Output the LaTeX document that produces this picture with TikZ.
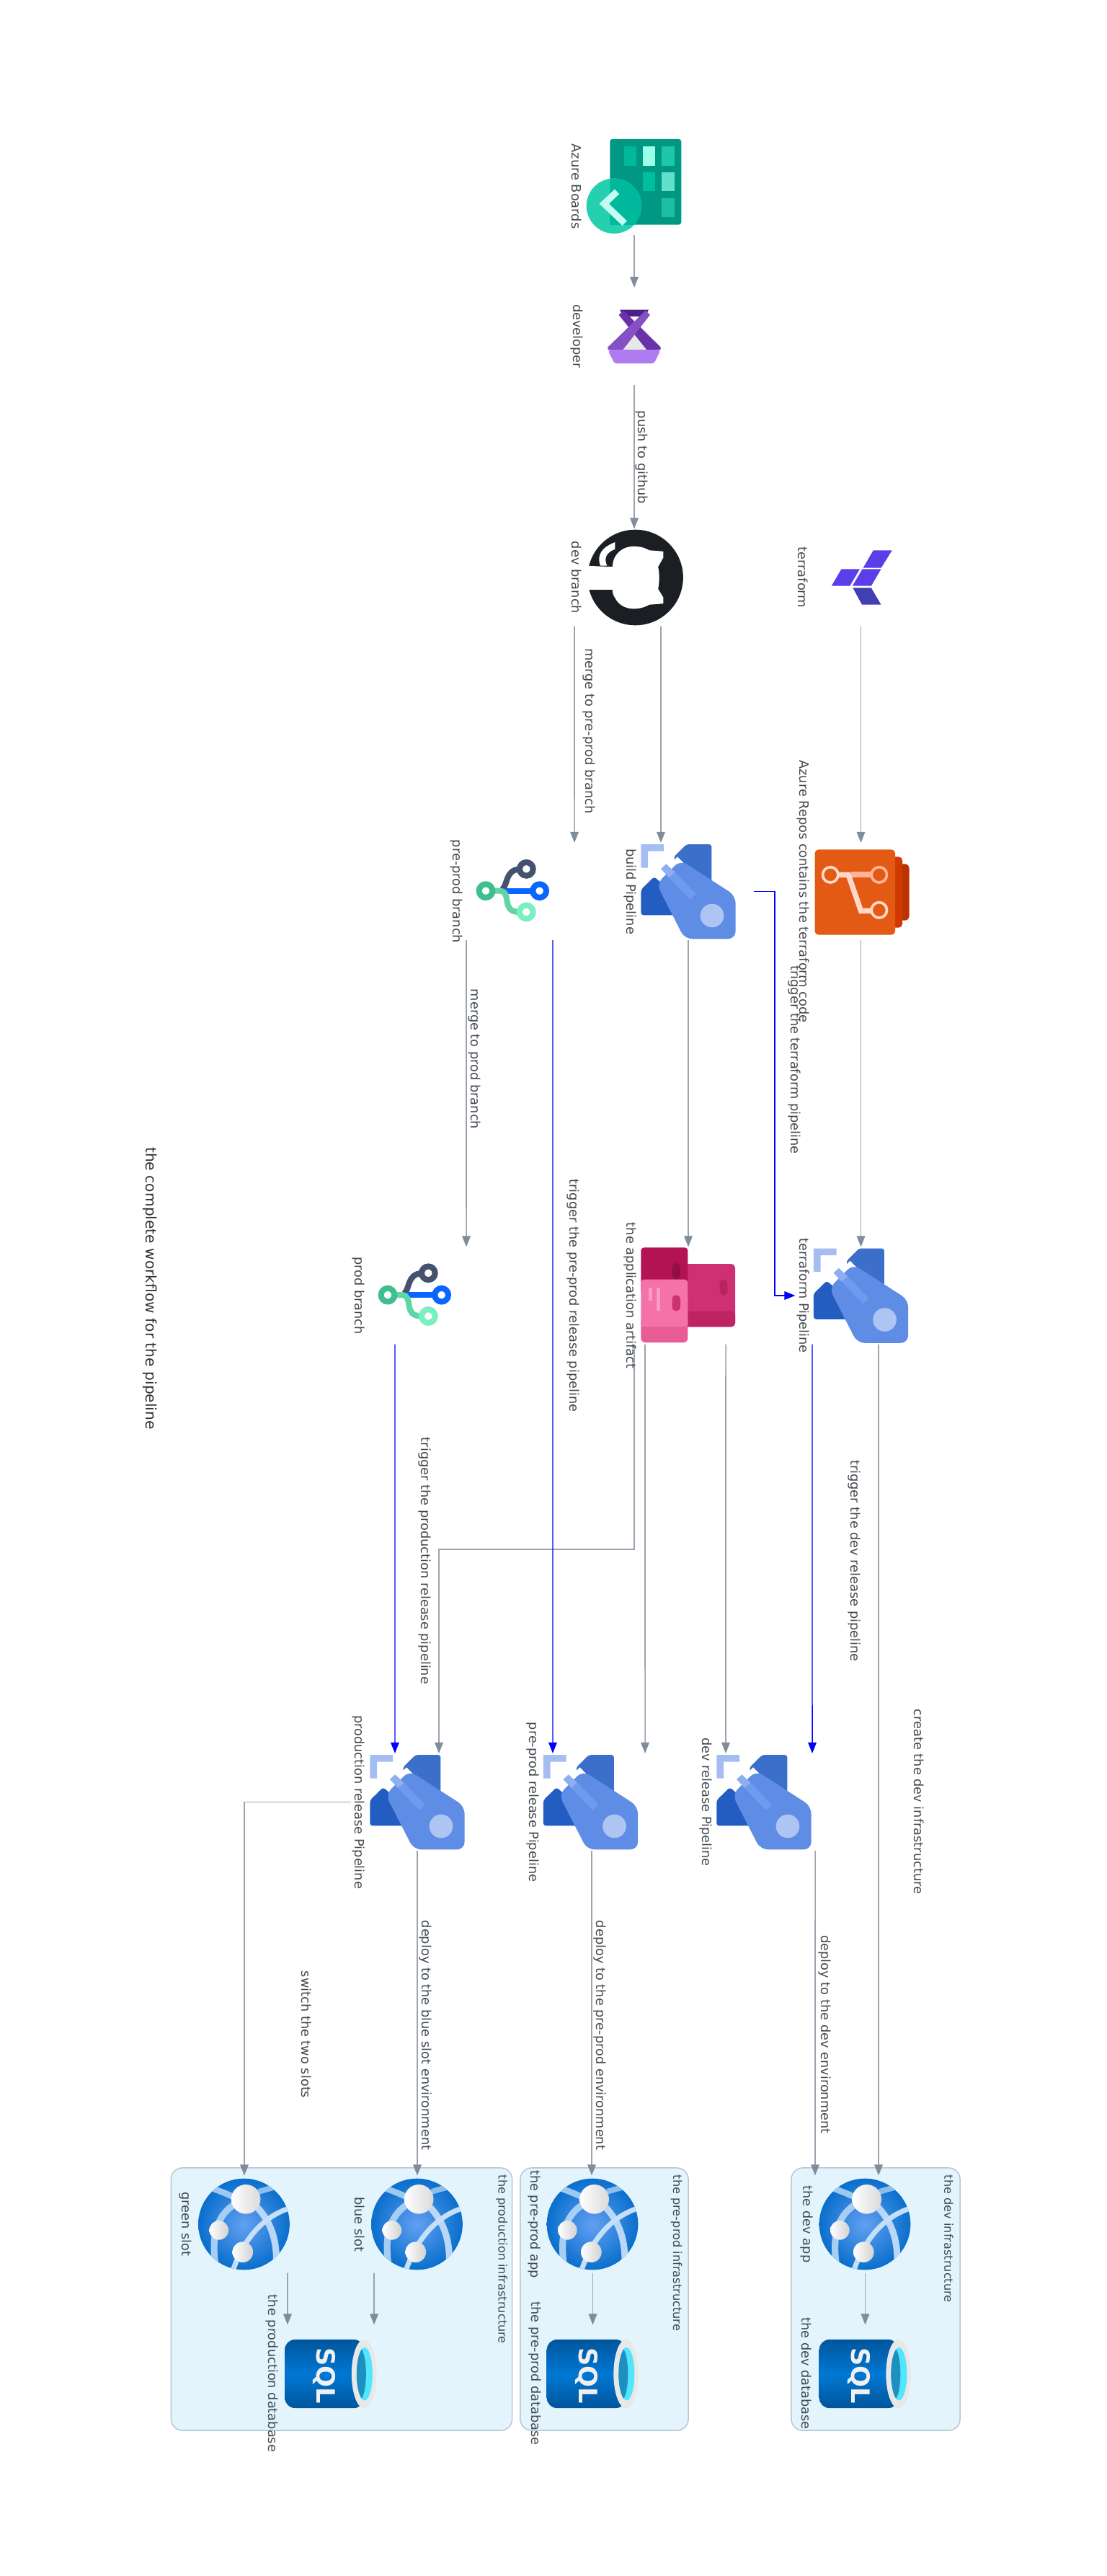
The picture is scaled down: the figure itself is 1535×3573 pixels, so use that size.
\documentclass[tikz,border=0pt]{standalone}
\usepackage{fontspec}
\setmainfont{DejaVu Sans}
\usepackage{tikz}
\usetikzlibrary{arrows.meta}

\definecolor{linegrey}{HTML}{9BA4AE}
\definecolor{tipgrey}{HTML}{7F8C99}
\definecolor{textgrey}{HTML}{44494F}
\definecolor{infrafill}{HTML}{E3F4FD}
\definecolor{infraline}{HTML}{B4C5D2}

\tikzset{
    iconbox/.style={minimum size=1.35cm, inner sep=0, outer sep=0},
    flow/.style={draw=linegrey, line width=0.45pt, -{Triangle[length=0.15cm, width=0.115cm, color=tipgrey]}},
    trigger/.style={draw=blue, line width=0.4pt, -{Triangle[length=0.15cm, width=0.115cm, color=blue]}},
    lbl/.style={rotate=-90, inner sep=0, text=textgrey, font=\fontsize{5.05}{6}\selectfont},
    grouplbl/.style={lbl, anchor=west, font=\fontsize{4.6}{5.5}\selectfont},
    infra/.style={draw=infraline, fill=infrafill, line width=0.4pt, rounded corners=4.5pt, inner sep=0, outer sep=0},
    % every icon is written in the pixels of a close-up crop
    pipelineicon/.pic={
        \begin{scope}[scale=0.3333, shift={(-210,-214.5)}]
            \fill[rounded corners=1pt, fill={rgb,255:red,60;green,111;blue,201}] (148,73) -- (203,18) -- (307,18) -- (307,190) -- (200,190) -- cycle;
            \fill[rounded corners=1pt, fill={rgb,255:red,36;green,93;blue,193}] (68,153) -- (13,207) -- (13,313) -- (190,313) -- (190,260) -- cycle;
            \fill[fill={rgb,255:red,165;green,189;blue,242}] (13,18) -- (108,18) -- (108,47) -- (42,47) -- (42,116) -- (13,116) -- cycle;
            \fill[white] (110,125) -- (165,70) -- (195,100) -- (110,180) -- (75,150) -- cycle;
            \fill[rounded corners=3pt, fill={rgb,255:red,95;green,141;blue,230}] (177,84) -- (78,183) -- (195,412) -- (407,412) -- (407,232) -- cycle;
            \fill[fill={rgb,255:red,143;green,174;blue,240}] (96,120) -- (118,100) -- (155,135) -- (130,157) -- cycle;
            \fill[fill={rgb,255:red,111;green,154;blue,238}] (130,157) -- (155,135) -- (243,225) -- (218,248) -- cycle;
            \fill[fill={rgb,255:red,174;green,196;blue,243}] (309,315) circle (49);
        \end{scope}
    },
    reposicon/.pic={
        \begin{scope}[scale=0.3333, shift={(-207,-199.5)}]
            \fill[rounded corners=1.5pt, fill={rgb,255:red,186;green,51;blue,0}] (340,85) rectangle (408,320);
            \fill[rounded corners=1.5pt, fill={rgb,255:red,208;green,58;blue,0}] (330,55) rectangle (380,350);
            \fill[rounded corners=1.5pt, fill={rgb,255:red,226;green,90;blue,20}] (15,25) rectangle (350,380);
            \draw[line width=2.3pt, color={rgb,255:red,255;green,180;blue,151}] (165,130) -- (250,130);
            \draw[line width=2.1pt, color={rgb,255:red,255;green,216;blue,199}] (110,130) -- (155,130) -- (207,280) -- (250,280);
            \draw[line width=1.05pt, color={rgb,255:red,255;green,216;blue,199}] (80,130) circle (32);
            \draw[line width=1.05pt, color={rgb,255:red,255;green,180;blue,151}] (283,130) circle (32);
            \draw[line width=1.05pt, color={rgb,255:red,255;green,216;blue,199}] (283,277) circle (32);
        \end{scope}
    },
    artifacticon/.pic={
        \begin{scope}[scale=0.3333, shift={(-210,-210)}]
            \fill[rounded corners=1.5pt, fill={rgb,255:red,207;green,47;blue,115}] (180,78) rectangle (405,340);
            \fill[rounded corners=1.5pt, fill={rgb,255:red,191;green,36;blue,98}] (180,275) rectangle (405,340);
            \fill[rounded corners=1.2pt, fill={rgb,255:red,179;green,18;blue,83}] (13,10) rectangle (208,200);
            \fill[rounded corners=1.5pt, fill={rgb,255:red,232;green,93;blue,150}] (13,300) rectangle (208,405);
            \fill[rounded corners=1.2pt, fill={rgb,255:red,244;green,114;blue,167}] (13,143) rectangle (208,340);
            \fill[rounded corners=1.5pt, fill={rgb,255:red,186;green,35;blue,96}] (341,143) rectangle (373,209);
            \fill[rounded corners=1.5pt, fill={rgb,255:red,147;green,15;blue,67}] (143,75) rectangle (177,141);
            \fill[rounded corners=1.5pt, fill={rgb,255:red,204;green,49;blue,115}] (143,208) rectangle (177,274);
            \fill[fill={rgb,255:red,251;green,156;blue,198}] (44,177) rectangle (60,230);
            \fill[fill={rgb,255:red,251;green,156;blue,198}] (77,177) rectangle (93,272);
        \end{scope}
    },
    branchicon/.pic={
        \begin{scope}[scale=0.3333, shift={(-184.5,-199.5)}, line width=2.3pt]
            \draw[color={rgb,255:red,69;green,82;blue,111}] (140,190) .. controls (165,175) and (150,110) .. (215,106);
            \draw[color={rgb,255:red,69;green,82;blue,111}] (241,106) circle (28);
            \draw[color={rgb,255:red,10;green,102;blue,255}] (150,197) -- (268,197);
            \draw[color={rgb,255:red,10;green,102;blue,255}] (296,197) circle (28);
            \draw[color={rgb,255:red,96;green,214;blue,165}] (100,197) -- (130,197) .. controls (185,200) and (130,285) .. (213,285);
            \draw[color={rgb,255:red,63;green,191;blue,143}] (72,197) circle (28);
            \draw[color={rgb,255:red,122;green,239;blue,191}] (241,285) circle (28);
        \end{scope}
    },
    appicon/.pic={
        \begin{scope}[scale=0.3333, shift={(-211.5,-210)}]
            \shade[inner color={rgb,255:red,98;green,160;blue,242}, outer color={rgb,255:red,10;green,111;blue,204}] (210,210) circle (190);
            \begin{scope}
                \clip (210,210) circle (190);
                \draw[line width=2.4pt, color={rgb,255:red,156;green,201;blue,240}] (75,60) .. controls (120,75) and (140,85) .. (175,100);
                \draw[line width=2.2pt, color={rgb,255:red,140;green,190;blue,235}] (270,75) -- (340,55);
                \draw[line width=2.6pt, color={rgb,255:red,166;green,206;blue,243}] (175,125) .. controls (100,170) and (75,250) .. (90,370);
                \draw[line width=2.6pt, color={rgb,255:red,185;green,215;blue,247}] (250,125) .. controls (320,190) and (345,270) .. (345,360);
                \draw[line width=2pt, color={rgb,255:red,198;green,223;blue,248}] (395,145) .. controls (290,180) and (210,270) .. (165,400);
            \end{scope}
            \shade[left color=white, right color={rgb,255:red,218;green,218;blue,218}] (218,106) circle (61);
            \shade[left color=white, right color={rgb,255:red,210;green,210;blue,210}] (106,235) circle (40);
            \shade[left color=white, right color={rgb,255:red,210;green,210;blue,210}] (205,326) circle (43);
        \end{scope}
    },
    sqlicon/.pic={
        \begin{scope}[scale=0.3333, shift={(-211.5,-201)}]
            \shade[top color={rgb,255:red,0;green,85;blue,155}, bottom color={rgb,255:red,0;green,85;blue,155}, middle color={rgb,255:red,0;green,120;blue,212}, rounded corners=4pt] (20,60) -- (350,60) -- (350,345) -- (20,345) -- cycle;
            \fill[fill={rgb,255:red,232;green,232;blue,232}] (350,203) ellipse (52 and 143);
            \fill[fill={rgb,255:red,80;green,230;blue,255}] (352,203) ellipse (33 and 110);
            \begin{scope}
                \clip (352,203) ellipse (33 and 110);
                \fill[fill={rgb,255:red,31;green,143;blue,191}] (330,203) ellipse (28 and 110);
            \end{scope}
            \node[rotate=-90, inner sep=0, text={rgb,255:red,240;green,240;blue,240}, font=\fontsize{10}{11}\bfseries\selectfont] (sqltext) at (185,210) {SQL};
        \end{scope}
    },
    boardsicon/.pic={
        \begin{scope}[scale=0.51, shift={(-549,-310.7)}]
            \fill[rounded corners=1pt, fill={rgb,255:red,0;green,152;blue,130}] (483,182) rectangle (677,415);
            \fill[fill={rgb,255:red,0;green,184;blue,156}] (521,202) rectangle (555,254);
            \fill[fill={rgb,255:red,155;green,255;blue,234}] (572,202) rectangle (606,254);
            \fill[fill={rgb,255:red,29;green,199;blue,168}] (624,202) rectangle (658,254);
            \fill[fill={rgb,255:red,0;green,191;blue,160}] (572,272) rectangle (606,324);
            \fill[fill={rgb,255:red,99;green,224;blue,200}] (624,272) rectangle (658,324);
            \fill[fill={rgb,255:red,29;green,192;blue,163}] (624,343) rectangle (658,395);
            \fill[fill={rgb,255:red,37;green,208;blue,177}] (494,364) circle (75);
            \begin{scope}
                \clip (483,182) rectangle (677,415);
                \fill[fill={rgb,255:red,0;green,185;blue,157}] (494,364) circle (75);
            \end{scope}
            \draw[line width=2.6pt, color={rgb,255:red,198;green,252;blue,240}] (502,325) -- (467,358) -- (523,411);
        \end{scope}
    },
    developericon/.pic={
        \begin{scope}[scale=0.51, shift={(-549,-718.3)}]
            \fill[fill={rgb,255:red,232;green,232;blue,232}] (518,755) -- (582,755) -- (549,712) -- cycle;
            \fill[fill={rgb,255:red,76;green,31;blue,134}] (510,646) -- (588,646) -- (580,664) -- (518,664) -- cycle;
            \fill[fill={rgb,255:red,106;green,50;blue,168}] (507,660) -- (520,648) -- (621,748) -- (621,755) -- (583,755) -- cycle;
            \fill[fill={rgb,255:red,132;green,80;blue,196}] (592,660) -- (580,648) -- (477,748) -- (477,755) -- (518,755) -- cycle;
            \fill[rounded corners=1pt, fill={rgb,255:red,174;green,123;blue,240}] (477,755) -- (621,755) -- (603,792) -- (495,792) -- cycle;
        \end{scope}
    },
    githubicon/.pic={
        \begin{scope}[scale=0.51, shift={(-549,-1374)}]
            \fill[fill={rgb,255:red,27;green,31;blue,35}] (552,1374) circle (130);
            \fill[white] (415,1342) -- (490,1345) .. controls (490,1310) and (520,1285) .. (557,1290) .. controls (570,1290) and (580,1295) .. (590,1300) -- (628,1303) -- (628,1320) -- (614,1345) .. controls (618,1365) and (618,1385) .. (614,1405) -- (628,1428) -- (628,1445) -- (590,1448) .. controls (560,1465) and (515,1465) .. (497,1430) .. controls (490,1420) and (490,1412) .. (490,1407) -- (415,1407) -- cycle;
            \fill[white] (497,1278) .. controls (465,1290) and (445,1310) .. (457,1342) -- (475,1342) .. controls (465,1320) and (475,1305) .. (497,1297) -- cycle;
        \end{scope}
    },
    terraformicon/.pic={
        \begin{scope}[scale=0.51, shift={(-1164,-1374)}]
            \fill[fill={rgb,255:red,92;green,62;blue,232}] (1198,1300) -- (1249,1300) -- (1219,1348) -- (1170,1348) -- cycle;
            \fill[fill={rgb,255:red,92;green,62;blue,232}] (1111,1351) -- (1161,1351) -- (1134,1397) -- (1084,1397) -- cycle;
            \fill[fill={rgb,255:red,92;green,62;blue,232}] (1168,1351) -- (1219,1351) -- (1192,1397) -- (1141,1397) -- cycle;
            \fill[fill={rgb,255:red,64;green,64;blue,178}] (1142,1402) -- (1192,1402) -- (1219,1448) -- (1167,1448) -- cycle;
        \end{scope}
    },
}

\begin{document}
\begin{tikzpicture}[x=0.01cm, y=-0.01cm]
    \useasboundingbox (0,0) rectangle (1535,3573);

    % infrastructure groups
    \node[infra, minimum width=4.73cm, minimum height=3.64cm] (prodinfra) at (474,3189) {};
    \node[infra, minimum width=2.33cm, minimum height=3.64cm] (preinfra) at (838.5,3189) {};
    \node[infra, minimum width=2.34cm, minimum height=3.64cm] (devinfra) at (1215,3189) {};

    % icons
    \node[iconbox] (boards) at (880,258.5) {};
    \node[iconbox] (developer) at (880,466.5) {};
    \node[iconbox] (github) at (880,801) {};
    \node[iconbox] (terraform) at (1194.5,801) {};
    \node[iconbox] (preprod) at (711.5,1236.5) {};
    \node[iconbox] (build) at (955,1236.5) {};
    \node[iconbox] (repos) at (1194.5,1236.5) {};
    \node[iconbox] (prod) at (575.5,1797) {};
    \node[iconbox] (artifact) at (955,1797) {};
    \node[iconbox] (tfpipe) at (1194.5,1797) {};
    \node[iconbox] (prodpipe) at (579,2499.5) {};
    \node[iconbox] (prepipe) at (819.5,2499.5) {};
    \node[iconbox] (devpipe) at (1060,2499.5) {};
    \node[iconbox] (greenapp) at (339,3085) {};
    \node[iconbox] (blueapp) at (579,3085) {};
    \node[iconbox] (preapp) at (822.5,3085) {};
    \node[iconbox] (devapp) at (1200.5,3085) {};
    \node[iconbox] (proddb) at (459,3292) {};
    \node[iconbox] (predb) at (822.5,3292) {};
    \node[iconbox] (devdb) at (1200.5,3292) {};

    \pic (boardspic) at (boards) {boardsicon};
    \pic (developerpic) at (developer) {developericon};
    \pic (githubpic) at (github) {githubicon};
    \pic (terraformpic) at (terraform) {terraformicon};
    \pic (preprodpic) at (preprod) {branchicon};
    \pic (buildpic) at (build) {pipelineicon};
    \pic (repospic) at (repos) {reposicon};
    \pic (prodpic) at (prod) {branchicon};
    \pic (artifactpic) at (artifact) {artifacticon};
    \pic (tfpipepic) at (tfpipe) {pipelineicon};
    \pic (prodpipepic) at (prodpipe) {pipelineicon};
    \pic (prepipepic) at (prepipe) {pipelineicon};
    \pic (devpipepic) at (devpipe) {pipelineicon};
    \pic (greenapppic) at (greenapp) {appicon};
    \pic (blueapppic) at (blueapp) {appicon};
    \pic (preapppic) at (preapp) {appicon};
    \pic (devapppic) at (devapp) {appicon};
    \pic (proddbpic) at (proddb) {sqlicon};
    \pic (predbpic) at (predb) {sqlicon};
    \pic (devdbpic) at (devdb) {sqlicon};

    % grey connectors
    \draw[flow] (boards.south) -- (developer.north);
    \draw[flow] (developer.south) -- (github.north);
    \draw[flow] ([xshift=-0.83cm]github.south) -- ([xshift=0.855cm]preprod.north);
    \draw[flow] ([xshift=0.37cm]github.south) -- ([xshift=-0.38cm]build.north);
    \draw[flow] (terraform.south) -- (repos.north);
    \draw[flow] ([xshift=-0.645cm]preprod.south) -- ([xshift=0.715cm]prod.north);
    \draw[flow] (build.south) -- (artifact.north);
    \draw[flow] (repos.south) -- (tfpipe.north);
    \draw[flow] ([xshift=-0.75cm]artifact.south) -- ++(0,284.5) -| ([xshift=0.3cm]prodpipe.north);
    \draw[flow] ([xshift=-0.6cm]artifact.south) -- ([xshift=0.755cm]prepipe.north);
    \draw[flow] ([xshift=0.52cm]artifact.south) -- ([xshift=-0.53cm]devpipe.north);
    \draw[flow] ([xshift=0.245cm]tfpipe.south) -- ([xshift=0.185cm]devapp.north);
    \draw[flow] (prodpipe.south) -- (blueapp.north);
    \draw[flow] ([xshift=-0.24cm]prodpipe.west) -| (greenapp.north);
    \draw[flow] ([xshift=0.015cm]prepipe.south) -- ([xshift=-0.015cm]preapp.north);
    \draw[flow] ([xshift=0.71cm]devpipe.south) -- ([xshift=-0.695cm]devapp.north);
    \draw[flow] ([xshift=0.6cm]greenapp.south) -- ([xshift=-0.6cm]proddb.north);
    \draw[flow] ([xshift=-0.6cm]blueapp.south) -- ([xshift=0.6cm]proddb.north);
    \draw[flow] (preapp.south) -- (predb.north);
    \draw[flow] (devapp.south) -- (devdb.north);

    % blue connectors
    \draw[trigger] ([xshift=0.235cm]build.east) -- ++(29,0) |- ([xshift=-0.235cm]tfpipe.west);
    \draw[trigger] ([xshift=0.555cm]preprod.south) -- ([xshift=-0.525cm]prepipe.north);
    \draw[trigger] ([xshift=-0.275cm]prod.south) -- ([xshift=-0.31cm]prodpipe.north);
    \draw[trigger] ([xshift=-0.675cm]tfpipe.south) -- ([xshift=0.67cm]devpipe.north);

    % icon labels
    \node[lbl] (boardslabel) at (800,258.5) {Azure Boards};
    \node[lbl] (developerlabel) at (800,466.5) {developer};
    \node[lbl] (githublabel) at (800,801) {dev branch};
    \node[lbl] (terraformlabel) at (1114,801) {terraform};
    \node[lbl] (preprodlabel) at (633,1236.5) {pre-prod branch};
    \node[lbl] (buildlabel) at (874,1236.5) {build Pipeline};
    \node[lbl] (reposlabel) at (1114,1236.5) {Azure Repos contains the terraform code};
    \node[lbl] (prodlabel) at (497,1797) {prod branch};
    \node[lbl] (artifactlabel) at (874.5,1797) {the application artifact};
    \node[lbl] (tfpipelabel) at (1114,1797) {terraform Pipeline};
    \node[lbl] (prodpipelabel) at (497,2499.5) {production release Pipeline};
    \node[lbl] (prepipelabel) at (739,2499.5) {pre-prod release Pipeline};
    \node[lbl] (devpipelabel) at (979,2499.5) {dev release Pipeline};
    \node[lbl] (greenlabel) at (257,3085) {green slot};
    \node[lbl] (bluelabel) at (499,3085) {blue slot};
    \node[lbl] (preapplabel) at (741,3085) {the pre-prod app};
    \node[lbl] (devapplabel) at (1119,3085) {the dev app};
    \node[lbl] (proddblabel) at (377.5,3292) {the production database};
    \node[lbl] (predblabel) at (742,3292) {the pre-prod database};
    \node[lbl] (devdblabel) at (1119,3292) {the dev database};

    % group labels
    \node[grouplbl] (prodinfralabel) at (696,3016) {the production infrastructure};
    \node[grouplbl] (preinfralabel) at (938.5,3016) {the pre-prod infrastructure};
    \node[grouplbl] (devinfralabel) at (1316.5,3016) {the dev infrastructure};

    % connector labels
    \node[lbl] (pushlabel) at (890,634.5) {push to github};
    \node[lbl] (mergepre) at (817,1014) {merge to pre-prod branch};
    \node[lbl] (mergeprod) at (658,1469) {merge to prod branch};
    \node[lbl] (triggertf) at (1102,1470) {trigger the terraform pipeline};
    \node[lbl] (triggerpre) at (795,1797) {trigger the pre-prod release pipeline};
    \node[lbl] (triggerprod) at (589,2165) {trigger the production release pipeline};
    \node[lbl] (triggerdev) at (1185,2165) {trigger the dev release pipeline};
    \node[lbl] (createdev) at (1275,2499) {create the dev infrastructure};
    \node[lbl] (deployblue) at (590,2823) {deploy to the blue slot environment};
    \node[lbl] (deploypre) at (832,2823) {deploy to the pre-prod environment};
    \node[lbl] (deploydev) at (1144,2822) {deploy to the dev environment};
    \node[lbl] (switchlabel) at (425,2822) {switch the two slots};

    % title
    \node[lbl, font=\fontsize{5.75}{6.5}\selectfont, text=black!80] (title) at (208,1787) {the complete workflow for the pipeline};
\end{tikzpicture}
\end{document}
